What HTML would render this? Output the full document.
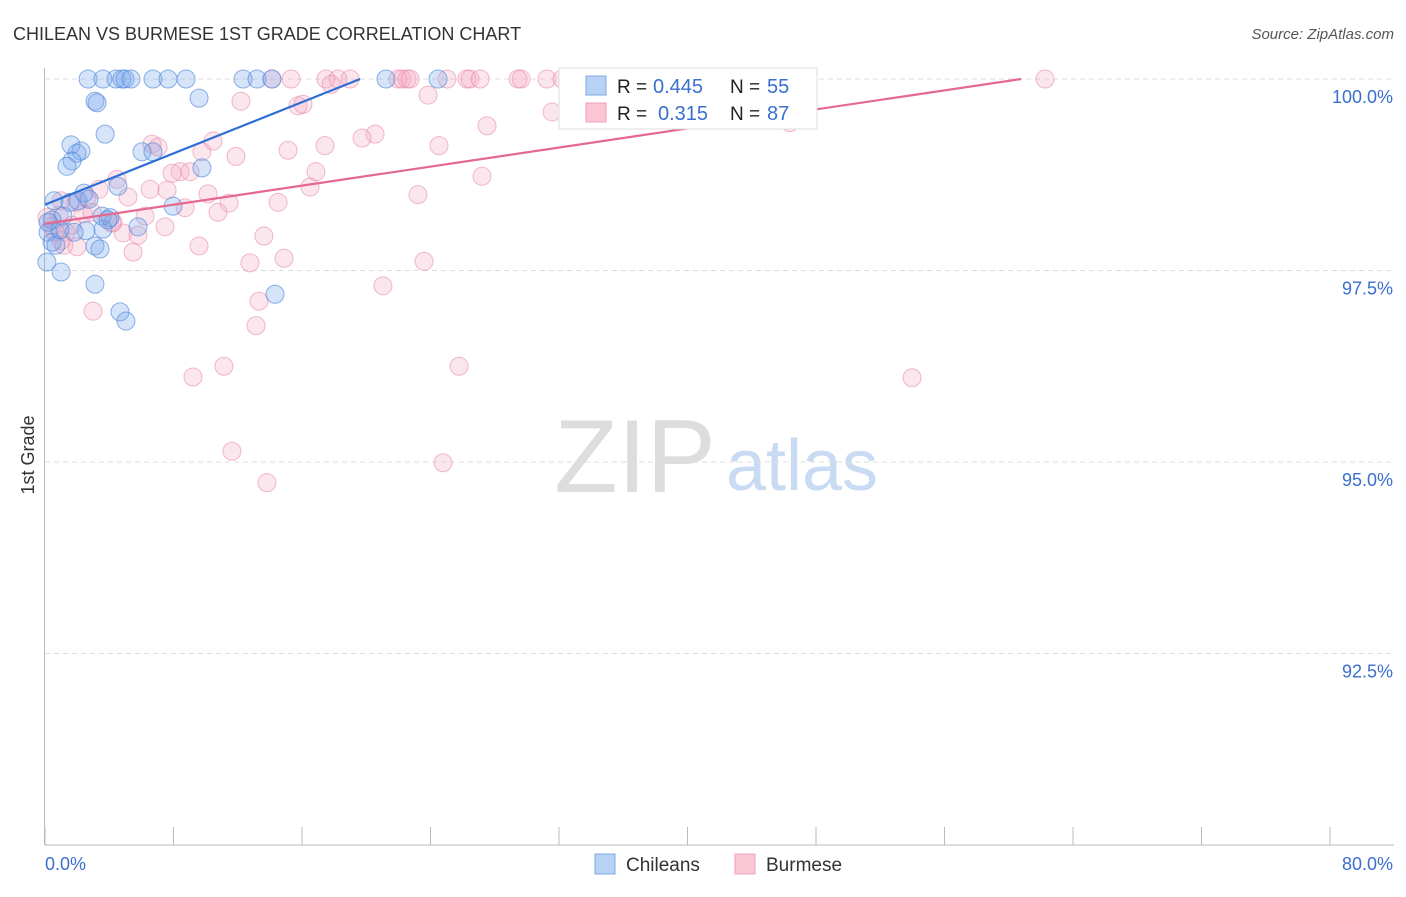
<!DOCTYPE html>
<html><head><meta charset="utf-8"><style>
body{margin:0;background:#fff;font-family:"Liberation Sans",sans-serif}
svg text{font-family:"Liberation Sans",sans-serif}
</style></head><body>
<svg id="chart" width="1406" height="892" xmlns="http://www.w3.org/2000/svg">
<text x="13" y="40" font-size="18" fill="#333">CHILEAN VS BURMESE 1ST GRADE CORRELATION CHART</text>
<text x="1394" y="39" font-size="15" fill="#555" font-style="italic" text-anchor="end">Source: ZipAtlas.com</text>
<g>
<text x="635" y="492" font-size="104" fill="#ddd" font-family="Liberation Serif" text-anchor="middle">ZIP</text>
<text x="802" y="490" font-size="72" fill="#c9daf3" text-anchor="middle">atlas</text>
</g>
<g id="grid"></g><g id="axes"></g><g id="pts"></g><g id="trend"></g>
<text transform="translate(34,455) rotate(-90)" font-size="18" fill="#333" text-anchor="middle">1st Grade</text>
<g>
<rect x="559" y="68" width="258" height="61" fill="#fff" stroke="#ddd"/>
<rect x="586" y="76" width="20" height="19" fill="#b8d2f5" stroke="#7ea8e6"/>
<rect x="586" y="103" width="20" height="19" fill="#fbc6d4" stroke="#efa0b6"/>
<text x="617" y="93" font-size="19" fill="#222">R =</text>
<text x="653" y="93" font-size="20" fill="#3a6fd0">0.445</text>
<text x="730" y="93" font-size="19" fill="#222">N =</text>
<text x="767" y="93" font-size="20" fill="#3a6fd0">55</text>
<text x="617" y="120" font-size="19" fill="#222">R =</text>
<text x="658" y="120" font-size="20" fill="#3a6fd0">0.315</text>
<text x="730" y="120" font-size="19" fill="#222">N =</text>
<text x="767" y="120" font-size="20" fill="#3a6fd0">87</text>
</g>
<g>
<rect x="595" y="854" width="20" height="20" fill="#b8d2f5" stroke="#7ea8e6"/>
<text x="626" y="871" font-size="19" fill="#333">Chileans</text>
<rect x="735" y="854" width="20" height="20" fill="#fbc6d4" stroke="#efa0b6"/>
<text x="766" y="871" font-size="19" fill="#333">Burmese</text>
</g>
</svg>
<script>
const blueX=[2.68,3.61,4.42,4.79,4.98,5.35,6.72,7.66,8.78,12.33,13.2,14.13,21.23,24.47,3.11,3.24,9.59,3.74,1.62,2.24,1.99,1.68,1.37,6.04,6.72,9.77,4.54,2.43,0.56,1.56,2.05,2.74,7.97,1.12,3.55,4.05,5.79,2.55,1.81,0.19,0.44,0.68,3.11,3.42,0.12,1.0,3.11,4.67,5.04,14.32,0.44,0.93,0.19,3.61,3.92];
const blueY=[100,100,100,100,100,100,100,100,100,100,100,100,100,100,99.71,99.69,99.75,99.28,99.14,99.06,99.03,98.93,98.86,99.05,99.05,98.84,98.60,98.51,98.41,98.39,98.41,98.43,98.34,98.21,98.21,98.19,98.07,98.02,98.0,98.0,97.87,97.83,97.82,97.78,97.61,97.48,97.32,96.96,96.84,97.19,98.16,98.03,98.13,98.04,98.16];
const pinkX=[14.13,15.32,17.49,18.24,18.99,21.98,22.23,22.54,22.73,25.03,26.27,26.46,27.09,29.45,29.64,31.25,32.19,37.67,62.26,17.81,12.2,15.75,16.06,23.85,31.57,46.38,27.52,20.55,19.74,17.43,24.53,15.13,9.77,11.89,10.46,6.66,7.04,4.48,8.41,9.03,7.91,16.87,27.21,6.54,7.6,10.15,16.5,3.36,5.17,23.22,1.0,1.93,2.61,11.46,14.51,8.72,10.77,2.37,6.23,0.87,4.23,7.47,4.86,5.79,0.44,1.31,13.63,1.99,5.48,1.18,1.0,9.59,12.76,14.88,23.6,21.04,13.32,2.99,13.14,11.14,9.21,25.78,53.98,11.64,24.78,13.82,0.12,0.62,1.68,4.17,2.93];
const pinkY=[100,100,100,100,100,100,100,100,100,100,100,100,100,100,100,100,100,100,100,99.93,99.71,99.65,99.67,99.79,99.57,99.43,99.39,99.28,99.23,99.13,99.13,99.07,99.05,98.99,99.19,99.15,99.11,98.69,98.79,98.79,98.77,98.79,98.73,98.56,98.55,98.50,98.59,98.56,98.46,98.49,98.41,98.39,98.45,98.38,98.39,98.32,98.26,98.24,98.21,98.22,98.13,98.07,97.99,97.96,98.08,98.0,97.95,97.81,97.74,97.83,97.89,97.82,97.6,97.66,97.62,97.30,97.10,96.97,96.78,96.25,96.11,96.25,96.10,95.14,94.99,94.73,98.19,98.0,98.09,98.12,98.26];
const yTicks=[100,97.5,95,92.5];
const yTickLabels=["100.0%","97.5%","95.0%","92.5%"];
const xTicks=[0,8,16,24,32,40,48,56,64,72,80];
const blueTrend=[98.36,0.0836];
const pinkTrend=[98.11,0.0311];
const NS="http://www.w3.org/2000/svg";
const sx=v=>45+v/80*1285, sy=v=>79+(100-v)/2.5*191.5;
function mk(tag,attrs,parent){const e=document.createElementNS(NS,tag);for(const k in attrs)e.setAttribute(k,attrs[k]);document.getElementById(parent).appendChild(e);return e;}
yTicks.forEach((t,i)=>{
 const g=mk('line',{x1:45,x2:1394,y1:sy(t),y2:sy(t),stroke:'#ddd','stroke-dasharray':'5,4'},'grid');
 
 
 const l=mk('text',{x:1393,y:sy(t)+24,'font-size':18,fill:'#3a6fd0','text-anchor':'end'},'axes');l.textContent=yTickLabels[i];
 
 
});
const ax=mk('line',{x1:44.5,x2:44.5,y1:68,y2:845,stroke:'#bbb'},'axes');


const bx=mk('line',{x1:45,x2:1394,y1:845,y2:845,stroke:'#bbb'},'axes');


xTicks.forEach(t=>{const k=mk('line',{x1:sx(t),x2:sx(t),y1:827,y2:845,stroke:'#bbb'},'axes');
 
 });
const x0=mk('text',{x:45,y:870,'font-size':18,fill:'#3a6fd0'},'axes');x0.textContent='0.0%';


const x1=mk('text',{x:1393,y:870,'font-size':18,fill:'#3a6fd0','text-anchor':'end'},'axes');x1.textContent='80.0%';


function pts(X,Y,fill,stroke,name){X.forEach((x,i)=>{const c=mk('circle',{cx:sx(x),cy:sy(Y[i]),r:9,fill:fill,stroke:stroke,'stroke-width':1},'pts');
 
 });}
pts(pinkX,pinkY,'rgba(244,165,190,0.28)','rgba(232,140,168,0.6)','burmese-point');
pts(blueX,blueY,'rgba(120,165,235,0.3)','rgba(80,135,220,0.65)','chilean-point');
function trend(c,color,name){const xe=(100-c[0])/c[1];const l=mk('line',{x1:sx(0),y1:sy(c[0]),x2:sx(xe),y2:sy(100),stroke:color,'stroke-width':2.2},'trend');
 
 }
trend(blueTrend,'#2d6fd6','chilean-trendline');
trend(pinkTrend,'#e5688f','burmese-trendline');
</script>
</body></html>
